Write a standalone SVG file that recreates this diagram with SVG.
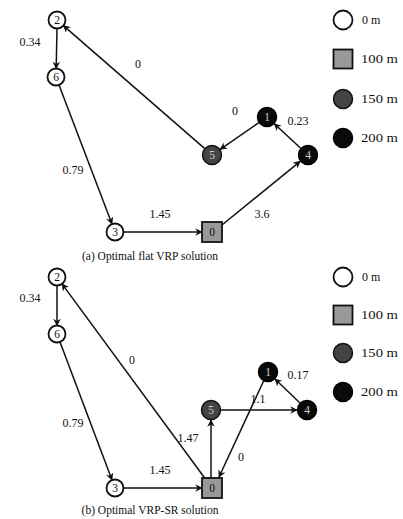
<svg xmlns="http://www.w3.org/2000/svg" width="403" height="519" viewBox="0 0 403 519" font-family="'Liberation Serif', 'DejaVu Serif', serif">
  <style>
    text { font-family: 'Liberation Serif', 'DejaVu Serif', serif; fill: #111; }
    .lbl { font-size: 12px; text-anchor: middle; dominant-baseline: central; }
    .nt { font-size: 11.5px; text-anchor: middle; dominant-baseline: central; }
    .nt-w { fill: #ccc; }
    .leg { font-size: 12px; dominant-baseline: central; }
    .cap { font-size: 11.5px; text-anchor: middle; }
    .n0 { fill: #fff; stroke: #111; stroke-width: 1.8; }
    .n100 { fill: #999; stroke: #111; stroke-width: 1.8; }
    .n150 { fill: #444; stroke: #111; stroke-width: 1.5; }
    .n200 { fill: #0a0a0a; stroke: #000; stroke-width: 1.5; }
    .edge { stroke: #111; stroke-width: 1.5; fill: none; marker-end: url(#arr); }
  </style>
  <defs>
    <marker id="arr" viewBox="0 0 10 10" refX="9" refY="5" markerWidth="5" markerHeight="5" orient="auto" markerUnits="strokeWidth">
      <path d="M0,0 L10,5 L0,10 L3,5 z" fill="#111"/>
    </marker>
  </defs>
  <rect width="403" height="519" fill="#fff"/>

  <!-- (a) flat VRP solution -->
  <g id="edges-a">
    <line class="edge" x1="57" y1="28.5" x2="56.2" y2="68.5"/>
    <line class="edge" x1="59" y1="85" x2="112" y2="224"/>
    <line class="edge" x1="123.5" y1="232" x2="202" y2="232"/>
    <line class="edge" x1="222" y1="225" x2="300.2" y2="161.3"/>
    <line class="edge" x1="300.7" y1="148.2" x2="274.3" y2="123.8"/>
    <line class="edge" x1="258.8" y1="122.7" x2="220.2" y2="149.3"/>
    <line class="edge" x1="204.5" y1="148.4" x2="63.4" y2="25.6"/>
    <text class="lbl" x="30" y="42">0.34</text>
    <text class="lbl" x="73" y="170">0.79</text>
    <text class="lbl" x="160" y="214">1.45</text>
    <text class="lbl" x="262" y="214">3.6</text>
    <text class="lbl" x="298" y="121">0.23</text>
    <text class="lbl" x="235" y="111">0</text>
    <text class="lbl" x="138" y="64">0</text>
  </g>
  <g id="a-node-2"><circle class="n0" cx="57" cy="20" r="8.5"/><text class="nt" x="57" y="20">2</text></g>
  <g id="a-node-6"><circle class="n0" cx="56" cy="77" r="8.5"/><text class="nt" x="56" y="77">6</text></g>
  <g id="a-node-3"><circle class="n0" cx="115" cy="232" r="8.5"/><text class="nt" x="115" y="232">3</text></g>
  <g id="a-node-0"><rect class="n100" x="202" y="222" width="20" height="20"/><text class="nt" x="212" y="232">0</text></g>
  <g id="a-node-5"><circle class="n150" cx="212" cy="155" r="9.5"/><text class="nt nt-w" x="212" y="155">5</text></g>
  <g id="a-node-1"><circle class="n200" cx="267" cy="117" r="9.5"/><text class="nt nt-w" x="267" y="117">1</text></g>
  <g id="a-node-4"><circle class="n200" cx="308" cy="155" r="9.5"/><text class="nt nt-w" x="308" y="155">4</text></g>
  <text class="cap" x="150" y="260">(a) Optimal flat VRP solution</text>

  <g id="legend-a">
    <circle class="n0" cx="343" cy="20" r="9.5"/><text class="leg" x="362" y="20">0 m</text>
    <rect class="n100" x="333.5" y="49.5" width="19" height="19"/><text class="leg" x="361" y="59" textLength="37" lengthAdjust="spacingAndGlyphs">100 m</text>
    <circle class="n150" cx="343" cy="99" r="9.5"/><text class="leg" x="361" y="99" textLength="37" lengthAdjust="spacingAndGlyphs">150 m</text>
    <circle class="n200" cx="343" cy="138" r="9.5"/><text class="leg" x="361" y="138" textLength="37" lengthAdjust="spacingAndGlyphs">200 m</text>
  </g>

  <!-- (b) VRP-SR solution -->
  <g id="edges-b">
    <line class="edge" x1="57" y1="285.5" x2="57" y2="325.5"/>
    <line class="edge" x1="60" y1="342" x2="112" y2="480"/>
    <line class="edge" x1="123.5" y1="488" x2="202" y2="488"/>
    <line class="edge" x1="204.7" y1="478" x2="62" y2="283.9"/>
    <line class="edge" x1="211" y1="478" x2="211" y2="420"/>
    <line class="edge" x1="221" y1="410" x2="297" y2="410"/>
    <line class="edge" x1="263.6" y1="381" x2="219" y2="477"/>
    <line class="edge" x1="300" y1="403" x2="275" y2="379"/>
    <text class="lbl" x="30" y="298">0.34</text>
    <text class="lbl" x="73" y="423">0.79</text>
    <text class="lbl" x="160" y="470">1.45</text>
    <text class="lbl" x="132" y="360">0</text>
    <text class="lbl" x="188" y="438">1.47</text>
    <text class="lbl" x="258" y="399">1.1</text>
    <text class="lbl" x="298" y="375">0.17</text>
    <text class="lbl" x="241" y="457">0</text>
  </g>
  <g id="b-node-2"><circle class="n0" cx="57" cy="277" r="8.5"/><text class="nt" x="57" y="277">2</text></g>
  <g id="b-node-6"><circle class="n0" cx="57" cy="334" r="8.5"/><text class="nt" x="57" y="334">6</text></g>
  <g id="b-node-3"><circle class="n0" cx="115" cy="488" r="8.5"/><text class="nt" x="115" y="488">3</text></g>
  <g id="b-node-0"><rect class="n100" x="202" y="478" width="20" height="20"/><text class="nt" x="212" y="488">0</text></g>
  <g id="b-node-5"><circle class="n150" cx="211" cy="410" r="9.5"/><text class="nt nt-w" x="211" y="410">5</text></g>
  <g id="b-node-1"><circle class="n200" cx="268" cy="372" r="9.5"/><text class="nt nt-w" x="268" y="372">1</text></g>
  <g id="b-node-4"><circle class="n200" cx="307" cy="410" r="9.5"/><text class="nt nt-w" x="307" y="410">4</text></g>
  <text class="cap" x="150" y="514">(b) Optimal VRP-SR solution</text>

  <g id="legend-b">
    <circle class="n0" cx="343" cy="277" r="9.5"/><text class="leg" x="362" y="277">0 m</text>
    <rect class="n100" x="333.5" y="305.5" width="19" height="19"/><text class="leg" x="361" y="315" textLength="37" lengthAdjust="spacingAndGlyphs">100 m</text>
    <circle class="n150" cx="343" cy="353" r="9.5"/><text class="leg" x="361" y="353" textLength="37" lengthAdjust="spacingAndGlyphs">150 m</text>
    <circle class="n200" cx="343" cy="392" r="9.5"/><text class="leg" x="361" y="392" textLength="37" lengthAdjust="spacingAndGlyphs">200 m</text>
  </g>
</svg>
